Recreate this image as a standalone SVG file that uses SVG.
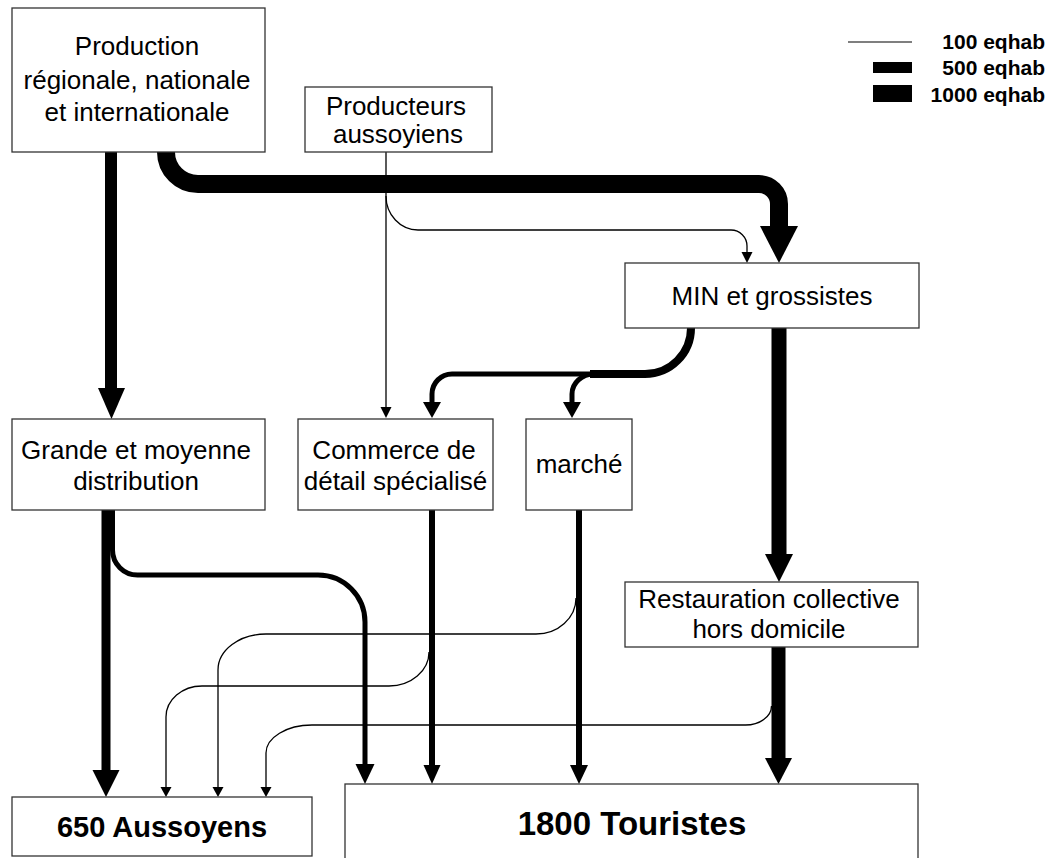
<svg xmlns="http://www.w3.org/2000/svg" width="1051" height="858" viewBox="0 0 1051 858">
<style>
.box{fill:#fff;stroke:#333;stroke-width:1.3}
.t{font-family:"Liberation Sans",Arial,sans-serif;font-size:26px;fill:#000;text-anchor:middle}
.tb{font-family:"Liberation Sans",Arial,sans-serif;font-weight:bold;fill:#000;text-anchor:middle}
.lg{font-family:"Liberation Sans",Arial,sans-serif;font-weight:bold;font-size:21px;fill:#000;text-anchor:end}
.f{fill:none;stroke:#000;stroke-linecap:butt;stroke-linejoin:round}
.h{fill:#000}
</style>
<rect width="1051" height="858" fill="#fff"/>
<g id="legend">
<line x1="848" y1="42" x2="912" y2="42" stroke="#000" stroke-width="1.2"/>
<rect x="873" y="62" width="39" height="11" fill="#000"/>
<rect x="873" y="85" width="39" height="17" fill="#000"/>
<text class="lg" x="1045" y="49">100 eqhab</text>
<text class="lg" x="1045" y="75">500 eqhab</text>
<text class="lg" x="1045" y="102">1000 eqhab</text>
</g>
<g id="connectors">
<!-- Production -> MIN -->
<path class="f" stroke-width="18" d="M166,152 A32,32 0 0 0 198,184 H759 A20,20 0 0 1 779,204 V227"/>
<polygon class="h" points="760,226 798,226 779,263"/>
<!-- Production -> Grande -->
<path class="f" stroke-width="12" d="M111,152 V390"/>
<polygon class="h" points="98,388 125,388 111.5,419"/>
<!-- Producteurs -> Commerce -->
<path class="f" stroke-width="1.3" d="M386,152 V408"/>
<polygon class="h" points="380.5,407 391.5,407 386,418"/>
<!-- Producteurs -> MIN -->
<path class="f" stroke-width="1.3" d="M386,196 A32,34 0 0 0 418,230 H731 A16,16 0 0 1 747,246 V253"/>
<polygon class="h" points="741.5,252 752.5,252 747,263"/>
<!-- MIN -> Commerce / marché -->
<path class="f" stroke-width="8" d="M691,328 A46,46 0 0 1 645,374 H590"/>
<path class="f" stroke-width="5" d="M594,374 H452 A20,20 0 0 0 432,394 V404"/>
<path class="f" stroke-width="5" d="M594,374 A22,20 0 0 0 572,394 V404"/>
<polygon class="h" points="423,402 441,402 432,418"/>
<polygon class="h" points="563,402 581,402 572,418"/>
<!-- MIN -> Restauration -->
<path class="f" stroke-width="15" d="M779,328 V556"/>
<polygon class="h" points="765,554 793,554 779,582"/>
<!-- Grande -> Aussoyens -->
<path class="f" stroke-width="9" d="M106,510 V771"/>
<polygon class="h" points="92.5,770 119.5,770 106,797"/>
<!-- Grande -> Touristes -->
<path class="f" stroke-width="5" d="M112.5,510 V550 A25,25 0 0 0 137.5,575 H318 A47,47 0 0 1 365,622 V766"/>
<polygon class="h" points="355.5,764 374.5,764 365,784"/>
<!-- Commerce -> Touristes -->
<path class="f" stroke-width="6" d="M432,510 V767"/>
<polygon class="h" points="423.5,765 440.5,765 432,784"/>
<!-- marché -> Touristes -->
<path class="f" stroke-width="6" d="M579,510 V767"/>
<polygon class="h" points="570,765 588,765 579,784"/>
<!-- Restauration -> Touristes -->
<path class="f" stroke-width="14" d="M778.5,647 V760"/>
<polygon class="h" points="765,758 792,758 778.5,784"/>
<!-- thin flows to Aussoyens -->
<path class="f" stroke-width="1.3" d="M576,598 A40,36 0 0 1 536,634 H266 A48,36 0 0 0 218,670 V788"/>
<polygon class="h" points="212.5,787 223.5,787 218,797"/>
<path class="f" stroke-width="1.3" d="M429,652 A40,34 0 0 1 389,686 H202 A36,31 0 0 0 166,717 V788"/>
<polygon class="h" points="160.5,787 171.5,787 166,797"/>
<path class="f" stroke-width="1.3" d="M771.5,706 A26,19 0 0 1 745,725 H312 A46,28 0 0 0 266,753 V788"/>
<polygon class="h" points="260.5,787 271.5,787 266,797"/>
</g>
<g id="production">
<rect class="box" x="12" y="8" width="253" height="144"/>
<text class="t" x="137" y="55">Production</text>
<text class="t" x="137" y="89">régionale, nationale</text>
<text class="t" x="137" y="121">et internationale</text>
</g>
<g id="producteurs">
<rect class="box" x="305" y="87" width="187" height="65"/>
<text class="t" x="396" y="115">Producteurs</text>
<text class="t" x="398" y="143">aussoyiens</text>
</g>
<g id="min">
<rect class="box" x="625" y="263" width="294" height="65"/>
<text class="t" x="772" y="305">MIN et grossistes</text>
</g>
<g id="grande">
<rect class="box" x="12" y="419" width="253" height="91"/>
<text class="t" x="136" y="459">Grande et moyenne</text>
<text class="t" x="136" y="490">distribution</text>
</g>
<g id="commerce">
<rect class="box" x="298" y="419" width="195" height="91"/>
<text class="t" x="394" y="459">Commerce de</text>
<text class="t" x="395.5" y="490">détail spécialisé</text>
</g>
<g id="marche">
<rect class="box" x="526" y="419" width="106" height="91"/>
<text class="t" x="579" y="473">marché</text>
</g>
<g id="restauration">
<rect class="box" x="625" y="582" width="293" height="65"/>
<text class="t" x="769" y="608">Restauration collective</text>
<text class="t" x="769" y="638">hors domicile</text>
</g>
<g id="aussoyens">
<rect class="box" x="12" y="797" width="300" height="59"/>
<text class="tb" x="162" y="837" font-size="29">650 Aussoyens</text>
</g>
<g id="touristes">
<rect class="box" x="345" y="784" width="573" height="90"/>
<text class="tb" x="632" y="835" font-size="33">1800 Touristes</text>
</g>
</svg>
